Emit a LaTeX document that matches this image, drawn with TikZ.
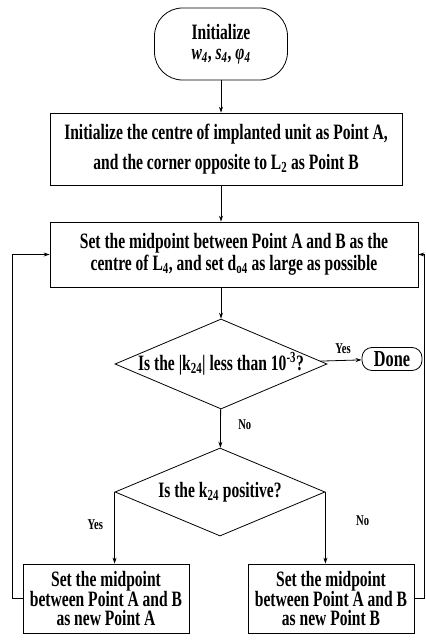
\documentclass[tikz,border=0pt]{standalone}
\usepackage{fontspec}
\setmainfont[FakeStretch=0.71]{Liberation Serif}
\usetikzlibrary{positioning}
\usetikzlibrary{arrows.meta}
\usetikzlibrary{shapes.geometric}

\tikzset{
    flow/.style={draw, line width=0.8bp, align=center, inner sep=2bp,
        font=\bfseries\fontsize{22}{22}\selectfont},
    stepbox/.style={flow, rectangle},
    startstop/.style={flow, rectangle, rounded corners=#1},
    decide/.style={flow, diamond, aspect=2.36, inner sep=-4bp},
    answer/.style={font=\bfseries\fontsize{15}{16}\selectfont},
    link/.style={draw, line width=0.8bp, ->}
}

\begin{document}
\begin{tikzpicture}[x=1bp, y=-1bp, >={Stealth[length=6bp,width=4bp]}]
        \useasboundingbox (0,0) rectangle (425,643);

        \node[startstop=28bp, minimum width=133bp, minimum height=72bp] (start) at (221,44)
            {Initialize\\[-2bp] \textit{w}\textsubscript{\textit{4}}, \textit{s}\textsubscript{\textit{4}}, \textit{φ}\textsubscript{\textit{4}}};
        \node[stepbox, minimum width=352bp, minimum height=72bp,
              font=\bfseries\fontsize{22}{30}\selectfont] (init) at (226,149)
            {Initialize the centre of implanted unit as Point A,\\ and the corner opposite to L\textsubscript{2} as Point B};
        \node[stepbox, minimum width=368bp, minimum height=65bp] (setmid) at (234,254.5)
            {Set the midpoint between Point A and B as the\\ centre of L\textsubscript{4}, and set d\textsubscript{o4} as large as possible};
        \node[decide, minimum width=212bp, minimum height=90bp] (check) at (221,364)
            {Is the |k\textsubscript{24}| less than 10\textsuperscript{-3}?};
        \node[startstop=10bp, minimum width=60bp, minimum height=23bp, inner sep=0pt,
              font=\bfseries\fontsize{23}{24}\selectfont] (done) at (392,359) {Done};
        \node[decide, minimum width=210bp, minimum height=88bp] (sign) at (220,492)
            {Is the k\textsubscript{24} positive?};
        \node[stepbox, minimum width=166bp, minimum height=69bp,
              font=\bfseries\fontsize{22}{20}\selectfont] (setA) at (106,598.5)
            {Set the midpoint\\ between Point A and B\\ as new Point A};
        \node[stepbox, minimum width=166bp, minimum height=69bp,
              font=\bfseries\fontsize{22}{20}\selectfont] (setB) at (331,598.5)
            {Set the midpoint\\ between Point A and B\\ as new Point B};

        \coordinate (leftrail) at (12,0);
        \coordinate (rightrail) at (424,0);

        \draw[link] (start) -- (start |- init.north);
        \draw[link] (start |- init.south) -- (start |- setmid.north);
        \draw[link] (start |- setmid.south) -- (check);
        \draw[link] (check) -- node[answer, above=3bp, pos=0.55] {Yes} (done);
        \draw[link] (check) -- node[answer, right=14bp, pos=0.4] {No} (sign);
        \draw[link] (sign.west) -- node[answer, left=8bp, pos=0.45] {Yes} (sign.west |- setA.north);
        \draw[link] (sign.east) -- node[answer, right=27bp, pos=0.4] {No} (sign.east |- setB.north);

        \draw[link] (setA.west) -- (leftrail |- setA.west) |- (setmid.west);
        \draw[link] (setB.east) -- (rightrail |- setB.east) |- (setmid.east);
    \end{tikzpicture}
\end{document}
